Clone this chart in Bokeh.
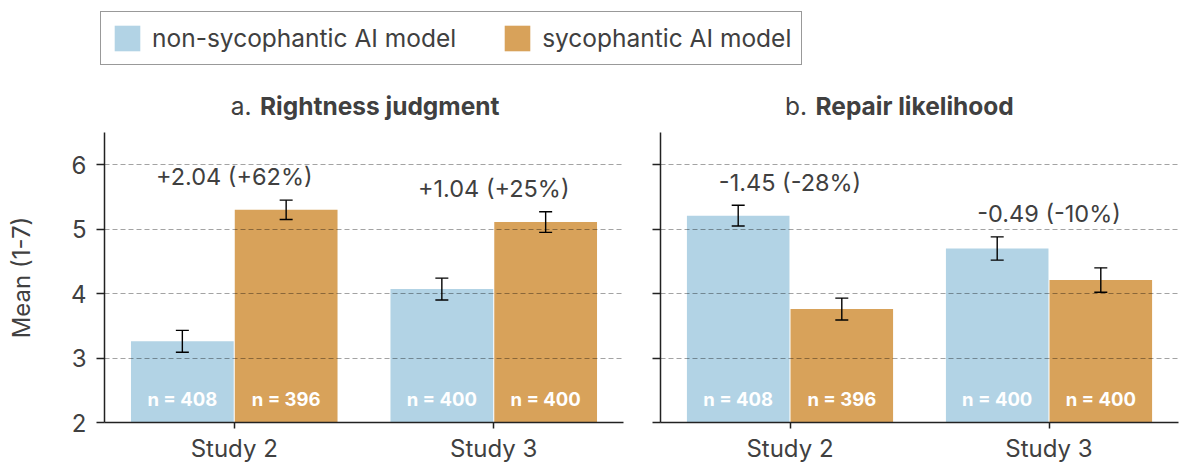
from bokeh.plotting import figure
from bokeh.models import ColumnDataSource, Legend, LegendItem, FactorRange, Range1d
from bokeh.layouts import column, row
from bokeh.transform import dodge
from bokeh.core.properties import value
from bokeh.embed import file_html
from bokeh.resources import INLINE

# ---------------- data ----------------
studies = ["Study 2", "Study 3"]
models = ["non-sycophantic AI model", "sycophantic AI model"]

rightness_nonsyc = [3.26, 4.07]
rightness_syc = [5.30, 5.11]
rightness_nonsyc_err = [0.17, 0.17]
rightness_syc_err = [0.15, 0.16]
rightness_diff = ["+2.04 (+62%)", "+1.04 (+25%)"]

repair_nonsyc = [5.21, 4.70]
repair_syc = [3.76, 4.21]
repair_nonsyc_err = [0.16, 0.18]
repair_syc_err = [0.17, 0.19]
repair_diff = ["-1.45 (-28%)", "-0.49 (-10%)"]

n_nonsyc = [408, 400]
n_syc = [396, 400]

panel_prefix = ["a.", "b."]
panel_name = ["Rightness judgment", "Repair likelihood"]

y_ticks = [2, 3, 4, 5, 6]

# ---------------- style / layout ----------------
BLUE = "#b2d3e5"
ORANGE = "#d8a25a"
TXT = "#404040"
FONT = "Inter"

HEAD_H = 128
PANEL_H = 342
W1, MBL1, MBR1 = 640, 104, 17
W2, MBL2, MBR2 = 552, 20, 14
TOTAL_W = W1 + W2


def make_panel(ns, sy, ns_err, sy_err, diffs, width, mbl, mbr, show_ylabels):
    src = ColumnDataSource(dict(
        study=studies,
        ns=ns, sy=sy,
        ns_up=[m + e for m, e in zip(ns, ns_err)],
        ns_lo=[m - e for m, e in zip(ns, ns_err)],
        sy_up=[m + e for m, e in zip(sy, sy_err)],
        sy_lo=[m - e for m, e in zip(sy, sy_err)],
        ns_n=[f"n = {v}" for v in n_nonsyc],
        sy_n=[f"n = {v}" for v in n_syc],
        diff=diffs,
        diff_y=[max(a + b, c + d) + 0.36 for a, b, c, d in zip(ns, ns_err, sy, sy_err)],
    ))
    p = figure(x_range=FactorRange(*studies), y_range=Range1d(2, 6.5),
               width=width, height=PANEL_H, toolbar_location=None,
               output_backend="svg", min_border_left=mbl, min_border_right=mbr,
               min_border_top=4, min_border_bottom=48)
    p.outline_line_color = None

    for key, off, col in (("ns", -0.2, BLUE), ("sy", 0.2, ORANGE)):
        xs = dodge("study", off, range=p.x_range)
        p.vbar(x=xs, top=key, bottom=2, width=0.396, source=src,
               fill_color=col, line_color=None)
        p.segment(x0=xs, y0=key + "_lo", x1=xs, y1=key + "_up", source=src,
                  line_color="black", line_width=1.4)
        for end in ("_lo", "_up"):
            p.scatter(x=xs, y=key + end, marker="dash", size=13, source=src,
                      line_color="black", line_width=1.4)
        p.text(x=xs, y=2.36, text=key + "_n", source=src, text_align="center",
               text_baseline="middle", text_color="white",
               text_font=value(FONT), text_font_style="bold",
               text_font_size="18.5px")

    p.text(x="study", y="diff_y", text="diff", source=src, text_align="center",
           text_baseline="middle", text_color=TXT, text_font=value(FONT),
           text_font_size="23.5px")

    p.xgrid.grid_line_color = None
    p.ygrid.ticker = y_ticks
    p.ygrid.grid_line_color = "black"
    p.ygrid.grid_line_alpha = 0.36
    p.ygrid.grid_line_dash = "5 3"
    p.ygrid.grid_line_width = 1.2
    p.ygrid.level = "overlay"

    p.yaxis.ticker = y_ticks
    p.yaxis.minor_tick_line_color = None
    p.yaxis.major_tick_in = 0
    p.yaxis.major_tick_out = 8
    p.xaxis.major_tick_in = 0
    p.xaxis.major_tick_out = 6
    for ax in (p.xaxis, p.yaxis):
        ax.axis_line_color = "#222222"
        ax.axis_line_width = 1.5
        ax.major_tick_line_color = "#222222"
        ax.major_tick_line_width = 1.5
        ax.major_label_text_font = FONT
        ax.major_label_text_font_size = "24px"
        ax.major_label_text_color = TXT
    p.xaxis.major_label_standoff = 5
    p.yaxis.major_label_standoff = 10
    if show_ylabels:
        p.yaxis.axis_label = "Mean (1-7)"
        p.yaxis.axis_label_text_font = FONT
        p.yaxis.axis_label_text_font_size = "24px"
        p.yaxis.axis_label_text_font_style = "normal"
        p.yaxis.axis_label_text_color = TXT
        p.yaxis.axis_label_standoff = 32
    else:
        p.yaxis.major_label_overrides = {t: "" for t in y_ticks}
        p.yaxis.major_label_standoff = 0
    return p


p1 = make_panel(rightness_nonsyc, rightness_syc, rightness_nonsyc_err,
                rightness_syc_err, rightness_diff, W1, MBL1, MBR1, True)
p2 = make_panel(repair_nonsyc, repair_syc, repair_nonsyc_err,
                repair_syc_err, repair_diff, W2, MBL2, MBR2, False)

# ---------------- header: legend + panel titles ----------------
head = figure(width=TOTAL_W, height=HEAD_H, toolbar_location=None,
              output_backend="svg", x_range=Range1d(0, TOTAL_W),
              y_range=Range1d(HEAD_H, 0), min_border=0, outline_line_color=None)
head.axis.visible = False
head.grid.visible = False

centers = [(MBL1 + W1 - MBR1) / 2, W1 + (MBL2 + W2 - MBR2) / 2]
title_src = ColumnDataSource(dict(
    xp=[c - 112.5 for c in centers],
    xn=[c - 104 for c in centers],
    y=[105, 105],
    prefix=panel_prefix,
    name=panel_name,
))
head.text(x="xp", y="y", text="prefix", source=title_src, text_align="right",
          text_baseline="middle", text_color=TXT, text_font=value(FONT),
          text_font_size="24.5px")
head.text(x="xn", y="y", text="name", source=title_src, text_align="left",
          text_baseline="middle", text_color=TXT, text_font=value(FONT),
          text_font_size="24.5px", text_font_style="bold")

# legend proxies (zero-size bars, only used for the legend swatches)
r1 = head.vbar(x=[0], top=[0], bottom=[0], width=0, fill_color=BLUE, line_color=None)
r2 = head.vbar(x=[0], top=[0], bottom=[0], width=0, fill_color=ORANGE, line_color=None)
leg = Legend(items=[LegendItem(label=models[0], renderers=[r1], index=0),
                    LegendItem(label=models[1], renderers=[r2], index=0)],
             location=(100, HEAD_H - 65), orientation="horizontal",
             glyph_width=32, glyph_height=32, label_height=32,
             label_standoff=9, spacing=45, padding=10, margin=0,
             label_text_font=FONT, label_text_font_size="24.5px",
             label_text_color=TXT, label_text_baseline="middle",
             border_line_color="#333333", border_line_width=1.2,
             background_fill_alpha=1)
head.add_layout(leg)

layout = column(head, row(p1, p2))
open("out.html", "w").write(file_html(layout, INLINE))
